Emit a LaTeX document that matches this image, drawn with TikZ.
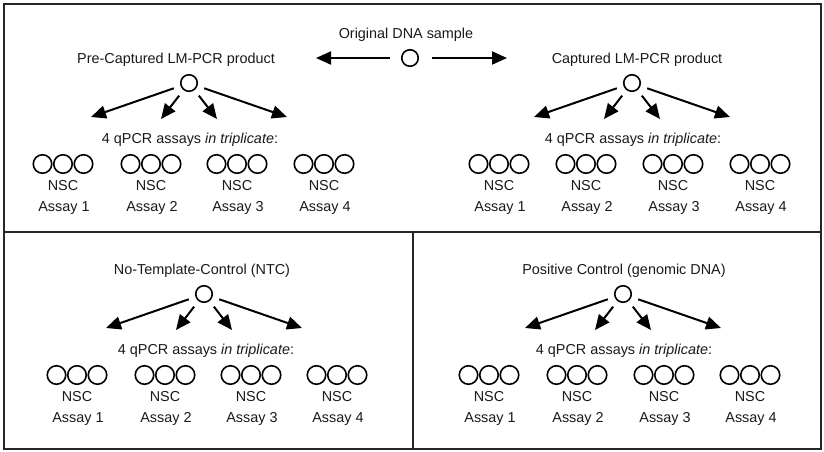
\documentclass[tikz,border=0pt]{standalone}
\usepackage{fontspec}
\setmainfont{Liberation Sans}
\usetikzlibrary{arrows.meta}

\tikzset{
  frame/.style={line width=2pt, draw=black!85},
  dot/.style={circle, draw, line width=1.6pt, minimum size=16.5pt, inner sep=0pt},
  rep/.style={circle, draw, line width=1.6pt, minimum size=18.5pt, inner sep=0pt},
  lbl/.style={font=\fontsize{14.4}{16}\selectfont, inner sep=0pt, anchor=base, text=black!90},
  arr/.style={line width=2pt, -{Triangle[length=15pt,width=13pt]}},
}

% one panel: #1 prefix, #2 root x, #3 root y, #4 title x, #5 title, #6 qPCR text x, #7 group centres
\newcommand\qpanel[7]{%
  \node[lbl] (#1title) at (#4,#3-20) {#5};
  \node[dot] (#1root) at (#2,#3) {};
  \coordinate (#1t1) at (#2-98,#3+34);
  \coordinate (#1t2) at (#2-28,#3+36);
  \coordinate (#1t3) at (#2+28,#3+36);
  \coordinate (#1t4) at (#2+98,#3+34);
  \foreach \t in {1,...,4}{\draw[arr, shorten <=7pt] (#1root) -- (#1t\t);}
  \node[lbl] (#1qpcr) at (#6,#3+60.5) {4 qPCR assays \textit{in triplicate}:};
  \foreach \g [count=\k] in {#7}{
    \node[rep] (#1g\k-1) at (\g-20.5,#3+81) {};
    \node[rep] (#1g\k-2) at (\g,#3+81) {};
    \node[rep] (#1g\k-3) at (\g+20.5,#3+81) {};
    \node[lbl] (#1nsc\k) at (\g,#3+107.5) {NSC};
    \node[lbl] (#1assay\k) at (\g+1,#3+128.5) {Assay \k};
  }
}

\begin{document}
\begin{tikzpicture}[x=1pt, y=-1pt]
  \useasboundingbox (0,0) rectangle (824,451);

  % panel frames
  \draw[frame] (3.5,3.5) rectangle (820.5,448.5);
  \draw[frame] (3.5,232) -- (820.5,232);
  \draw[frame] (413,232) -- (413,448.5);

  % starting sample, split in two directions
  \node[lbl] (origtitle) at (406,38) {Original DNA sample};
  \node[dot] (orig) at (410,58) {};
  \coordinate (origL) at (316,58);
  \coordinate (origR) at (507,58);
  \draw[arr, shorten <=11pt] (orig) -- (origL);
  \draw[arr, shorten <=13pt] (orig) -- (origR);

  \qpanel{pre}{189}{83}{176}{Pre-Captured LM-PCR product}{190}{63,151,237,324}
  \qpanel{cap}{632}{83}{637}{Captured LM-PCR product}{633}{499,586,673,760}
  \qpanel{ntc}{204}{294}{202}{No-Template-Control (NTC)}{206}{77,165,251,337}
  \qpanel{pos}{623}{294}{624}{Positive Control (genomic DNA)}{624}{489,577,664,750}
\end{tikzpicture}
\end{document}
